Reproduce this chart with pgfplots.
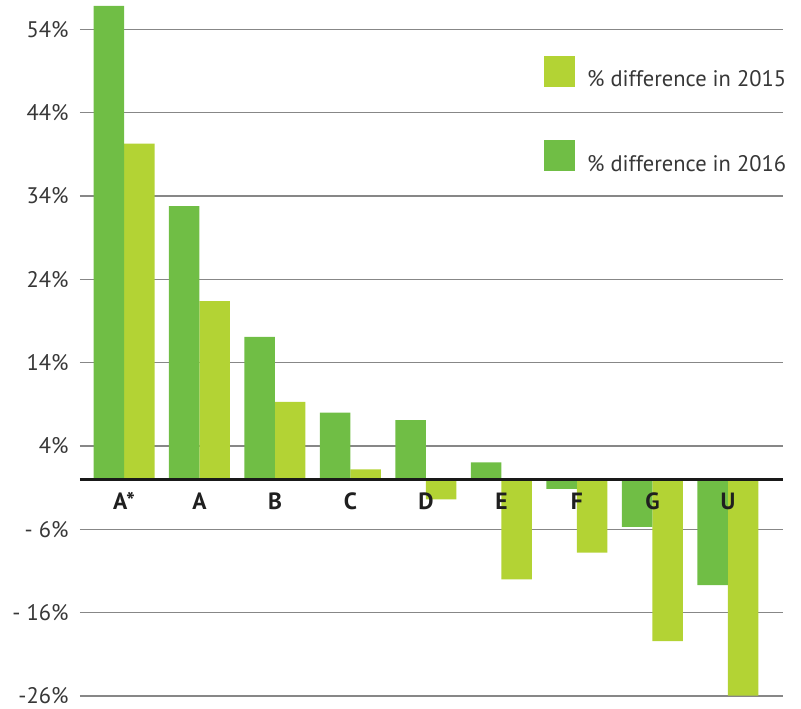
\documentclass[border=0pt]{standalone}
\usepackage{fontspec}
\setmainfont{PT Sans}
\usepackage{pgfplots}
\pgfplotsset{compat=1.18}
\definecolor{dgreen}{RGB}{112,190,69}
\definecolor{lgreen}{RGB}{179,211,52}
\definecolor{gridc}{RGB}{135,135,135}
\definecolor{txt}{RGB}{55,55,55}
\tikzset{catlab/.style={anchor=base, yshift=-30pt, inner sep=0pt,
    font=\fontsize{23.5}{26}\selectfont\bfseries, text=black!88}}
\begin{document}
\begin{tikzpicture}
\begin{axis}[
  name=ax,
  scale only axis, width=703pt, height=708pt,
  xmin=-0.583, xmax=8.73, ymin=-27.43, ymax=57.52,
  axis x line=middle, axis y line=left,
  x axis line style={draw=none}, y axis line style={draw=none},
  hide obscured x ticks=false, hide obscured y ticks=false,
  xtick=\empty,
  ytick={-26,-16,-6,4,14,24,34,44,54},
  yticklabels={-26\%,- 16\%,- 6\%,4\%,14\%,24\%,34\%,44\%,54\%},
  major tick length=0pt,
  ymajorgrids, grid style={gridc, line width=1.5pt},
  /pgf/number format/assume math mode=true,
  yticklabel style={font=\fontsize{22.5}{26}\selectfont, text=txt, xshift=-8pt},
  ybar=0pt, bar width=30.5pt,
  legend image code/.code={\fill[#1] (0pt,-7.5pt) rectangle (31pt,23.5pt);},
  legend cell align=left,
  legend style={at={(rel axis cs:0.66,0.921)}, anchor=north west, draw=none, fill=none,
    inner sep=0pt, row sep=52pt, column sep=12pt,
    font=\fontsize{22.5}{26}\selectfont, text=txt, nodes={inner sep=0pt}},
]
\addplot[fill=lgreen, draw=none, bar shift=15.25pt] coordinates {
  (0,40.3) (1,21.4) (2,9.3) (3,1.2) (4,-2.4) (5,-12.0) (6,-8.8) (7,-19.4) (8,-25.95)};
\addlegendentry{\% difference in 2015}
\addplot[fill=dgreen, draw=none, bar shift=-15.25pt] coordinates {
  (0,56.8) (1,32.8) (2,17.1) (3,8.0) (4,7.1) (5,2.05) (6,-1.15) (7,-5.7) (8,-12.7)};
\addlegendentry{\% difference in 2016}
\draw[black!90, line width=2.5pt] (axis cs:-0.583,0) -- (axis cs:8.73,0);
\node[catlab] at (axis cs:0,0) {A*};
\node[catlab] at (axis cs:1,0) {A};
\node[catlab] at (axis cs:2,0) {B};
\node[catlab] at (axis cs:3,0) {C};
\node[catlab] at (axis cs:4,0) {D};
\node[catlab] at (axis cs:5,0) {E};
\node[catlab] at (axis cs:6,0) {F};
\node[catlab] at (axis cs:7,0) {G};
\node[catlab] at (axis cs:8,0) {U};
\end{axis}
\pgfresetboundingbox
\path[use as bounding box] ([xshift=-80pt]ax.south west) rectangle ([xshift=18pt]ax.north east);
\end{tikzpicture}
\end{document}
